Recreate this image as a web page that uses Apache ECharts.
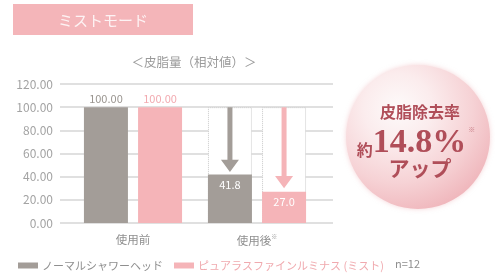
<!DOCTYPE html>
<html>
<head>
<meta charset="utf-8">
<script src="https://cdn.jsdelivr.net/npm/echarts@6/dist/echarts.min.js"></script>
<style>
  html, body { margin: 0; padding: 0; background: #fff; }
  #chart { width: 495px; height: 277px; }
</style>
</head>
<body>
<div id="chart"></div>
<script>
// データ
const categories = ['使用前', '使用後']
const normalValues = [100.00, 41.8]
const mistValues = [100.00, 27.0]
const normalLabels = ['100.00', '41.8']
const mistLabels = ['100.00', '27.0']
const ghostValues = ['-', 100]       // 使用前の量（点線の枠）
const normalArrowTip = ['-', 44]     // 矢印の先端
const mistArrowTip = ['-', 30]
const yTicks = [0, 20, 40, 60, 80, 100, 120]

const normalName = 'ノーマルシャワーヘッド'
const mistName = 'ピュアラスファインルミナス (ミスト)'

const GRAY = '#a39d98'
const PINK = '#f5b4b8'
const FONT = '"Noto Sans CJK JP", "Noto Sans", sans-serif'

const chart = echarts.init(document.getElementById('chart'))

// 棒データ：使用前は上に、使用後は棒の中にラベル
function barData(values, color) {
  return values.map((v, i) => ({
    value: v,
    label: i === 0
      ? { position: 'top', distance: 3, color: color }
      : { position: 'insideTop', distance: 5, color: '#fff' }
  }))
}

const barWidth = 44
const barGap = '23%'

const option = {
  animation: false,
  textStyle: { fontFamily: FONT },
  grid: [
    { left: 60, right: 162, top: 84, bottom: 54 },  // 目盛り線
    { left: 71, right: 176, top: 84, bottom: 54 }   // 棒
  ],
  legend: {
    left: 13,
    top: 255,
    icon: 'rect',
    itemWidth: 20,
    itemHeight: 6,
    itemGap: 11,
    textStyle: { fontSize: 11, padding: [0, 0, 0, -1] },
    data: [
      { name: normalName, textStyle: { color: '#8f8f8f' } },
      { name: mistName, textStyle: { color: '#f0a9ae' } }
    ]
  },
  xAxis: [
    { gridIndex: 0, type: 'category', data: categories, show: false },
    {
      gridIndex: 1,
      type: 'category',
      data: categories,
      axisLine: { show: false },
      axisTick: { show: false },
      axisLabel: {
        margin: 11,
        fontSize: 11.5,
        color: '#8f8f8f',
        formatter: (v, i) => i === 1 ? '{a|' + v + '}{s|※}' : v,
        rich: {
          a: { fontSize: 11.5, color: '#8f8f8f', fontFamily: FONT },
          s: { fontSize: 6, color: '#8f8f8f', verticalAlign: 'top', padding: [0, 0, 8, 0] }
        }
      }
    },
    { gridIndex: 1, type: 'category', data: categories, show: false }
  ],
  yAxis: [
    {
      gridIndex: 0,
      type: 'value',
      min: 0,
      max: 120,
      interval: 20,
      axisLine: { show: false },
      axisTick: { show: false },
      axisLabel: {
        margin: 7,
        fontSize: 12,
        color: '#a3a3a3',
        formatter: (v) => yTicks.includes(v) ? v.toFixed(2) : ''
      },
      splitLine: { lineStyle: { color: '#d6d6d6', width: 1.5 } }
    },
    { gridIndex: 1, type: 'value', min: 0, max: 120, interval: 20, show: false }
  ],
  series: [
    // 点線の枠（使用前の量）
    {
      type: 'bar',
      xAxisIndex: 2, yAxisIndex: 1,
      barWidth: barWidth, barGap: barGap,
      z: 1, silent: true,
      itemStyle: { color: '#fff', borderColor: '#c9c9c9', borderWidth: 1, borderType: 'dotted' },
      data: ghostValues
    },
    {
      type: 'bar',
      xAxisIndex: 2, yAxisIndex: 1,
      barWidth: barWidth, barGap: barGap,
      z: 1, silent: true,
      itemStyle: { color: '#fff', borderColor: '#c9c9c9', borderWidth: 1, borderType: 'dotted' },
      data: ghostValues
    },
    // 矢印
    {
      type: 'pictorialBar',
      xAxisIndex: 2, yAxisIndex: 1,
      barWidth: barWidth, barGap: barGap,
      z: 3, silent: true,
      symbol: 'path://M6.5,0 L11.5,0 L11.5,81 L18,81 L9,100 L0,81 L6.5,81 Z',
      symbolPosition: 'end',
      data: ghostValues.map((v, i) => v === '-' ? '-' : {
        value: v,
        symbolSize: [18, (100 - normalArrowTip[i]) + '%']
      }),
      itemStyle: { color: GRAY }
    },
    {
      type: 'pictorialBar',
      xAxisIndex: 2, yAxisIndex: 1,
      barWidth: barWidth, barGap: barGap,
      z: 3, silent: true,
      symbol: 'path://M6.5,0 L11.5,0 L11.5,85 L18,85 L9,100 L0,85 L6.5,85 Z',
      symbolPosition: 'end',
      data: ghostValues.map((v, i) => v === '-' ? '-' : {
        value: v,
        symbolSize: [18, (100 - mistArrowTip[i]) + '%']
      }),
      itemStyle: { color: PINK }
    },
    // 本体の棒
    {
      name: normalName,
      type: 'bar',
      xAxisIndex: 1, yAxisIndex: 1,
      barWidth: barWidth, barGap: barGap,
      z: 2,
      itemStyle: { color: GRAY },
      label: {
        show: true, fontSize: 11,
        formatter: (p) => normalLabels[p.dataIndex]
      },
      data: barData(normalValues, '#9a9590')
    },
    {
      name: mistName,
      type: 'bar',
      xAxisIndex: 1, yAxisIndex: 1,
      barWidth: barWidth, barGap: barGap,
      z: 2,
      itemStyle: { color: PINK },
      label: {
        show: true, fontSize: 11,
        formatter: (p) => mistLabels[p.dataIndex]
      },
      data: barData(mistValues, '#f2aab0')
    }
  ],
  graphic: [
    // タイトル帯
    {
      type: 'rect', left: 13, top: 4, z: 10,
      shape: { width: 180, height: 31 },
      style: { fill: '#f4b5b9' }
    },
    {
      type: 'text', x: 103, y: 20, z: 11,
      style: {
        text: 'ミストモード', fill: '#fdf3f4', font: '15px ' + FONT,
        align: 'center', verticalAlign: 'middle'
      }
    },
    {
      type: 'text', x: 194, y: 62, z: 11,
      style: {
        text: '＜皮脂量（相対値）＞', fill: '#9a9a9a', font: '12.5px ' + FONT,
        align: 'center', verticalAlign: 'middle'
      }
    },
    {
      type: 'text', x: 395, y: 264, z: 11,
      style: { text: 'n=12', fill: '#8f8f8f', font: '11px ' + FONT, verticalAlign: 'middle' }
    },
    // 丸
    {
      type: 'circle', z: 10,
      shape: { cx: 418, cy: 137, r: 72 },
      style: {
        fill: new echarts.graphic.RadialGradient(0.36, 0.3, 0.8, [
          { offset: 0, color: '#fdfafa' },
          { offset: 0.3, color: '#fbeced' },
          { offset: 0.65, color: '#f6d2d5' },
          { offset: 1, color: '#eeb0b6' }
        ]),
        shadowBlur: 5,
        shadowColor: 'rgba(235,170,175,0.5)'
      }
    },
    {
      type: 'text', x: 420, y: 112, z: 11,
      style: {
        text: '皮脂除去率', fill: '#b04e59', font: 'bold 16px "Noto Sans CJK JP"',
        align: 'center', verticalAlign: 'middle'
      }
    },
    {
      type: 'text', x: 416, y: 143, z: 11,
      style: {
        text: '{a|約}{b|14.8%}{c|※}',
        align: 'center', verticalAlign: 'middle',
        rich: {
          a: { fill: '#b04e59', font: 'bold 16px "Noto Sans CJK JP"', verticalAlign: 'bottom', padding: [0, 0, 2, 0] },
          b: { fill: '#b04e59', font: 'bold 34px "Liberation Serif"' },
          c: { fill: '#c47880', font: '7px "Noto Sans CJK JP"', verticalAlign: 'top', padding: [0, 0, 20, 2] }
        }
      }
    },
    {
      type: 'text', x: 420, y: 168, z: 11,
      style: {
        text: 'アップ', fill: '#b04e59', font: 'bold 21px "Noto Sans CJK JP"',
        align: 'center', verticalAlign: 'middle'
      }
    }
  ]
}

chart.setOption(option)
</script>
</body>
</html>
